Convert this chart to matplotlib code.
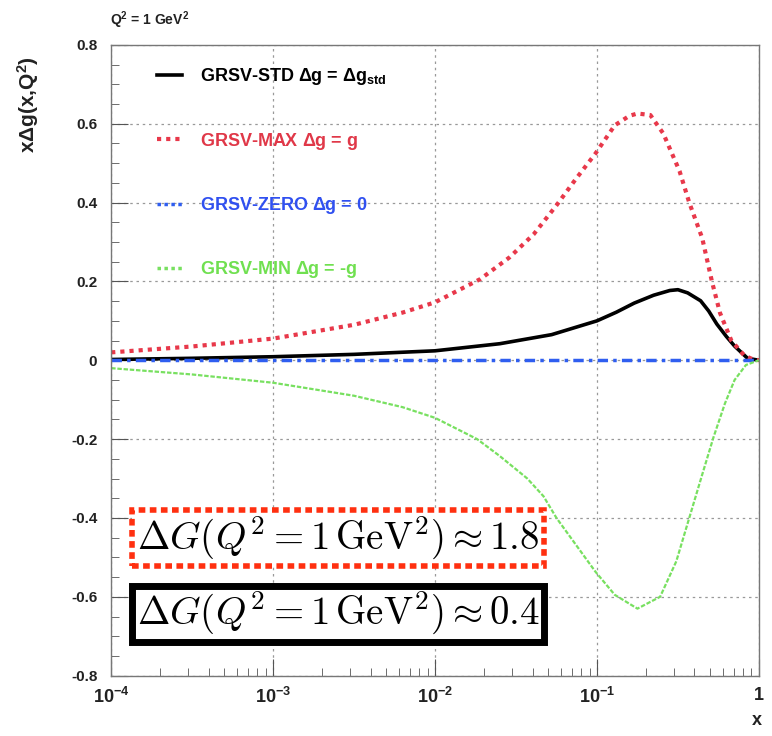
import numpy as np
import matplotlib
matplotlib.use("Agg")
import matplotlib.pyplot as plt
from matplotlib.lines import Line2D
from matplotlib.ticker import FixedLocator, NullFormatter

plt.rcParams['font.family'] = ['Liberation Sans', 'DejaVu Sans']
plt.rcParams['font.weight'] = 'bold'
plt.rcParams['axes.labelweight'] = 'bold'
plt.rcParams['mathtext.fontset'] = 'custom'
plt.rcParams['mathtext.rm'] = 'Liberation Sans:bold'
plt.rcParams['mathtext.it'] = 'Liberation Sans:bold'
plt.rcParams['mathtext.bf'] = 'Liberation Sans:bold'

# log10(x) and x*Delta g(x, Q^2) for the GRSV sets at Q^2 = 1 GeV^2
max_logx = [-4.0, -3.5, -3.0, -2.5, -2.2, -2.0, -1.72, -1.54, -1.39, -1.25, -1.13, -1.01,
            -0.89, -0.80, -0.75, -0.67, -0.59, -0.49, -0.43, -0.35, -0.29,
            -0.24, -0.17, -0.09, -0.04, 0.0]
max_val = [0.020, 0.035, 0.055, 0.090, 0.121, 0.147, 0.206, 0.261, 0.320, 0.393, 0.460, 0.524,
           0.596, 0.620, 0.626, 0.622, 0.575, 0.480, 0.400, 0.310, 0.200,
           0.120, 0.050, 0.012, 0.003, 0.0]

std_logx = [-4.0, -3.5, -3.0, -2.5, -2.0, -1.6, -1.28, -1.0, -0.88, -0.77, -0.65, -0.55, -0.50,
            -0.44, -0.36, -0.31, -0.26, -0.20, -0.15, -0.07, 0.0]
std_val = [0.002, 0.005, 0.009, 0.015, 0.024, 0.042, 0.065, 0.100, 0.122, 0.145, 0.165, 0.177, 0.179,
           0.171, 0.151, 0.125, 0.092, 0.060, 0.036, 0.005, 0.0]

min_logx = [-4.0, -3.5, -3.0, -2.5, -2.2, -2.0, -1.74, -1.6, -1.43, -1.33, -1.25, -1.13, -1.01,
            -0.89, -0.75, -0.61, -0.51, -0.43, -0.35, -0.28, -0.21, -0.15, -0.08, 0.0]
min_val = [-0.020, -0.036, -0.057, -0.090, -0.119, -0.146, -0.200, -0.243, -0.300, -0.345, -0.400,
           -0.468, -0.536, -0.595, -0.630, -0.600, -0.510, -0.400, -0.290, -0.195, -0.110,
           -0.050, -0.012, 0.0]

zero_logx = [-4.0, 0.0]
zero_val = [0.0, 0.0]

xtick_labels = ['$10^{-4}$', '$10^{-3}$', '$10^{-2}$', '$10^{-1}$', '1']
ytick_vals = [-0.8, -0.6, -0.4, -0.2, 0, 0.2, 0.4, 0.6, 0.8]
ytick_labels = ['-0.8', '-0.6', '-0.4', '-0.2', '0', '0.2', '0.4', '0.6', '0.8']

red = '#e8384a'
blue = '#2f5ef0'
green = '#78e060'

fig = plt.figure(figsize=(7.72, 7.36), dpi=100)
ax = fig.add_axes([0.144, 0.082, 0.839, 0.857])

ax.plot(10 ** np.array(std_logx), std_val, color='black', lw=2.6, solid_capstyle='round')
ax.plot(10 ** np.array(max_logx), max_val, color=red, lw=3, linestyle=(0, (1, 1.2)))
ax.plot(10 ** np.array(zero_logx), zero_val, color=blue, lw=2.5, linestyle=(0, (3, 1.5, 1, 1.5)))
ax.plot(10 ** np.array(min_logx), min_val, color=green, lw=1.6, linestyle=(0, (2, 0.8)))

ax.set_xscale('log')
ax.set_xlim(1e-4, 1)
ax.set_ylim(-0.8, 0.8)

ax.set_xticks([1e-4, 1e-3, 1e-2, 1e-1, 1], xtick_labels)
ax.xaxis.set_minor_locator(FixedLocator(
    [m * 10.0 ** e for e in range(-4, 0) for m in range(2, 10)]))
ax.xaxis.set_minor_formatter(NullFormatter())
ax.set_yticks(ytick_vals, ytick_labels)
ax.yaxis.set_minor_locator(FixedLocator(np.arange(-0.8, 0.81, 0.05)))

ax.tick_params(axis='both', which='both', direction='in', top=False, right=False, colors='#555555',
               labelcolor='#222222')
ax.tick_params(axis='x', which='major', length=12, labelsize=13, pad=8)
ax.tick_params(axis='x', which='minor', length=6)
ax.tick_params(axis='y', which='major', length=12, labelsize=11, pad=10)
ax.tick_params(axis='y', which='minor', length=6)
for s in ax.spines.values():
    s.set_color('#777777')
    s.set_linewidth(1)

ax.grid(True, which='major', color='#999999', lw=0.9, linestyle=(0, (2, 3)))
ax.set_axisbelow(True)

ax.set_ylabel(r'x$\Delta$g(x,Q$^2$)', fontsize=15, color='#222222')
ax.yaxis.set_label_coords(-0.108, 0.905)
ax.set_xlabel('x', fontsize=13, color='#222222', ha='right')
ax.xaxis.set_label_coords(1.004, -0.058)
fig.text(0.142, 0.972, r'Q$^2$ = 1 GeV$^2$', fontsize=10, color='#222222', va='center')

handles = [
    Line2D([], [], color='black', lw=2.6),
    Line2D([], [], color=red, lw=3, linestyle=(0, (1, 1.2))),
    Line2D([], [], color=blue, lw=2.5, linestyle=(0, (1, 1))),
    Line2D([], [], color=green, lw=2.5, linestyle=(0, (1, 1))),
]
labels = [r'GRSV-STD $\Delta$g = $\Delta$g$_{std}$', r'GRSV-MAX $\Delta$g = g',
          r'GRSV-ZERO $\Delta$g = 0', r'GRSV-MIN $\Delta$g = -g']
leg = ax.legend(handles, labels, loc='upper left', bbox_to_anchor=(0.045, 0.992), frameon=False,
                fontsize=13, handlelength=1.4, handletextpad=1.0, labelspacing=2.4,
                labelcolor=['black', '#e03848', '#3050f0', '#70e050'])

ax.text(0.04, 0.218, r'$\Delta G(Q^2 = 1\,\mathrm{GeV}^2) \approx 1.8$', transform=ax.transAxes,
        fontsize=28, math_fontfamily='cm', va='center', ha='left',
        bbox=dict(boxstyle='square,pad=0.12', fc='white', ec='#ff3010', lw=4, linestyle=(0, (1.2, 0.8))))
ax.text(0.04, 0.098, r'$\Delta G(Q^2 = 1\,\mathrm{GeV}^2) \approx 0.4$', transform=ax.transAxes,
        fontsize=28, math_fontfamily='cm', va='center', ha='left',
        bbox=dict(boxstyle='square,pad=0.12', fc='white', ec='black', lw=5))

fig.savefig('out.png', dpi=100)
